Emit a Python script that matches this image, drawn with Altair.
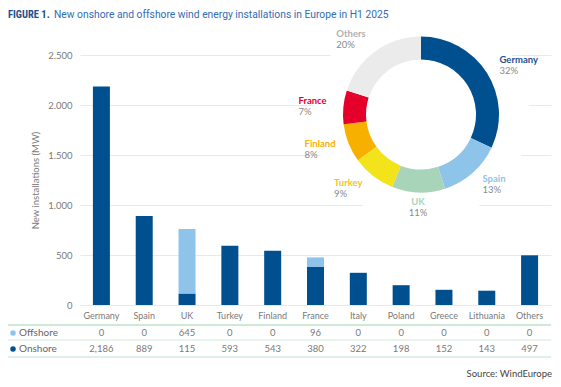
import math
import altair as alt
import pandas as pd

# ---------------- data ----------------
countries = ["Germany", "Spain", "UK", "Turkey", "Finland", "France",
             "Italy", "Poland", "Greece", "Lithuania", "Others"]
offshore = [0, 0, 645, 0, 0, 96, 0, 0, 0, 0, 0]
onshore = [2186, 889, 115, 593, 543, 380, 322, 198, 152, 143, 497]

share_names = ["Germany", "Spain", "UK", "Turkey", "Finland", "France", "Others"]
share_pct = [32, 13, 11, 9, 8, 7, 20]
share_colors = ["#00508f", "#8ec4ea", "#a8d5ba", "#f2e31b", "#f8b000", "#e4002b", "#ebebeb"]
share_label_colors = ["#1f4f8d", "#8ec4ea", "#a8d5ba", "#f0c52a", "#f8b000", "#e4002b", "#b0b0b0"]

y_ticks = [0, 500, 1000, 1500, 2000, 2500]

FONT = "Lato"
TFONT = "Roboto Condensed, DejaVu Sans Condensed, Roboto"
T2FONT = "Roboto"
GREY = "#7a7a7a"

# ---------------- tables ----------------
rows = []
for i, c in enumerate(countries):
    rows.append({"country": c, "type": "Onshore", "value": onshore[i], "ord": 0})
    rows.append({"country": c, "type": "Offshore", "value": offshore[i], "ord": 1})
bars_df = pd.DataFrame(rows)

total = sum(share_pct)
cum = 0
pie_rows = []
for i, (n, p) in enumerate(zip(share_names, share_pct)):
    mid = (cum + p / 2) / total
    cum += p
    side = "right" if mid < 0.47 else ("center" if mid < 0.53 else "left")
    pie_rows.append({"name": n, "pct": p, "idx": i, "col": share_colors[i],
                     "lcol": share_label_colors[i], "rad": mid * 2 * math.pi,
                     "ptxt": f"{p}%", "side": side})
pie_df = pd.DataFrame(pie_rows)

one = pd.DataFrame({"a": [0]})

CX, CY = 341, 59.5  # donut centre inside the plot area

xenc = alt.X("country:N", sort=countries,
             scale=alt.Scale(paddingInner=0, paddingOuter=0), title=None)

bars = alt.Chart(bars_df).mark_bar(size=17).encode(
    x=xenc,
    y=alt.Y("value:Q", stack="zero",
            scale=alt.Scale(domain=[0, 2500], nice=False),
            axis=alt.Axis(values=y_ticks, title="New installations (MW)",
                          labelExpr="replace(format(datum.value, ','), ',', '.')")),
    color=alt.Color("type:N", scale=alt.Scale(domain=["Onshore", "Offshore"],
                                              range=["#00508f", "#8ec4ea"]), legend=None),
    order=alt.Order("ord:Q"),
)

white = alt.Chart(one).mark_circle(color="white", opacity=1, size=46760).encode(
    x=alt.value(CX), y=alt.value(CY))

donut = alt.Chart(pie_df).mark_arc(innerRadius=55, outerRadius=78).encode(
    theta=alt.Theta("pct:Q", stack=True),
    order=alt.Order("idx:Q"),
    fill=alt.Fill("col:N", scale=None),
    x=alt.value(CX), y=alt.value(CY),
)

label_layers = []
for side, align, dx in [("right", "left", 0), ("center", "center", 0), ("left", "left", -30)]:
    base = alt.Chart(pie_df).transform_filter(alt.datum.side == side)
    label_layers.append(base.mark_text(radius=93, align=align, dx=dx, dy=-5, font=FONT,
                                       fontSize=9.5, fontWeight="bold").encode(
        theta=alt.Theta("rad:Q", scale=None), text="name:N",
        color=alt.Color("lcol:N", scale=None),
        x=alt.value(CX), y=alt.value(CY)))
    label_layers.append(base.mark_text(radius=93, align=align, dx=dx, dy=6, font=FONT,
                                       fontSize=9.5, color="#8a8a8a").encode(
        theta=alt.Theta("rad:Q", scale=None), text="ptxt:N",
        x=alt.value(CX), y=alt.value(CY)))

# table
def hline(y, color, w=1):
    return alt.Chart(one).mark_rule(color=color, strokeWidth=w).encode(
        x=alt.value(-72), x2=alt.value(471), y=alt.value(y))

lines = [hline(270, "#9fd3b4", 1.2), hline(285, "#cfe9da", 1), hline(302, "#bfe2cd", 1.2)]

row_text = []
for t, yv in [("Offshore", 278), ("Onshore", 294)]:
    row_text.append(alt.Chart(bars_df).transform_filter(alt.datum.type == t).mark_text(
        font=FONT, fontSize=9.5, color=GREY).encode(
        x=xenc, y=alt.value(yv), text=alt.Text("value:Q", format=",")))

leg_dots = []
leg_txt = []
for t, yv, c in [("Offshore", 278, "#8ec4ea"), ("Onshore", 294, "#00508f")]:
    leg_dots.append(alt.Chart(one).mark_circle(color=c, opacity=1, size=30).encode(
        x=alt.value(-67), y=alt.value(yv)))
    leg_txt.append(alt.Chart(one).mark_text(text=t, align="left", font=FONT, fontSize=10,
                                            color="#666666").encode(
        x=alt.value(-61), y=alt.value(yv)))

title1 = alt.Chart(one).mark_text(text="FIGURE 1.", align="left", font=TFONT,
                                  fontSize=10.5, fontWeight="bold", color="#1d4f8c").encode(
    x=alt.value(-72), y=alt.value(-40))
title2 = alt.Chart(one).mark_text(
    text="New onshore and offshore wind energy installations in Europe in H1 2025",
    align="left", font=T2FONT, fontSize=10.3, color="#2f6db5").encode(
    x=alt.value(-26), y=alt.value(-40))
source = alt.Chart(one).mark_text(text="Source: WindEurope", align="right", font=FONT,
                                  fontSize=9.5, color="#444444").encode(
    x=alt.value(472), y=alt.value(319))

chart = alt.layer(
    bars, white, donut, *label_layers, *lines, *row_text, *leg_dots, *leg_txt,
    title1, title2, source
).properties(
    width=471, height=250,
    autosize=alt.AutoSizeParams(type="none"),
    padding={"left": 72, "top": 47, "right": 2, "bottom": 74},
).configure_view(stroke=None).configure_axisX(
    labelAngle=0, ticks=False, domain=False, grid=False, labelColor=GREY,
    labelFont=FONT, labelFontSize=9, labelPadding=6,
).configure_axisY(
    ticks=False, domain=False, gridColor="#e9e9e9", labelColor=GREY, labelFont=FONT,
    labelFontSize=9.5, labelPadding=8, titleFont=FONT, titleFontSize=9.5,
    titleFontWeight="normal", titleColor=GREY, titlePadding=7,
)

chart.save("out.html", embed_options={"renderer": "svg", "actions": False})
